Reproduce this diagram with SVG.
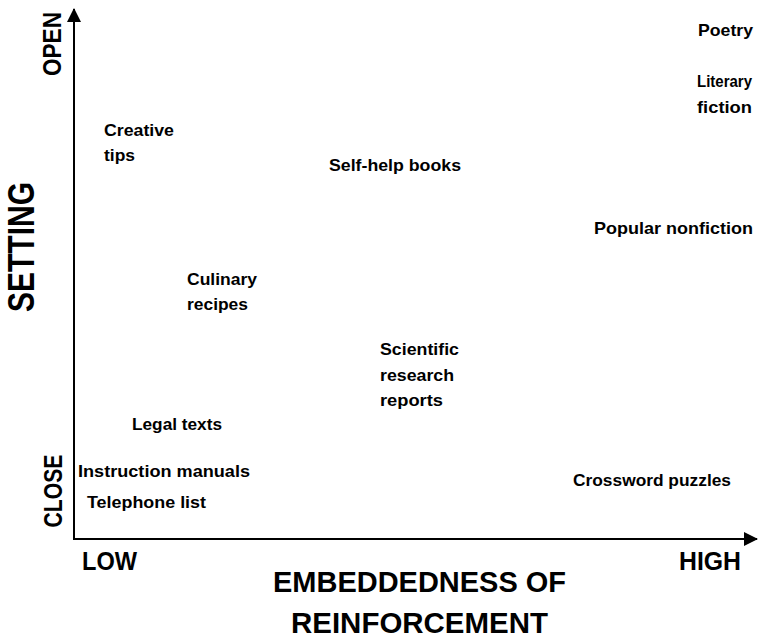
<svg xmlns="http://www.w3.org/2000/svg" width="766" height="638" viewBox="0 0 766 638">
<defs>
<style>
.t{font-family:"Liberation Sans",Arial,sans-serif;font-weight:bold;font-size:17px;fill:#000}
.ax{font-family:"Liberation Sans",Arial,sans-serif;font-weight:bold;fill:#000}
.axis{stroke:#000;stroke-width:2;fill:none}
</style>
<marker id="arr" markerWidth="14" markerHeight="14" refX="13" refY="7" orient="auto" markerUnits="userSpaceOnUse">
<polygon points="0,0 14,7 0,14" fill="#000"/>
</marker>
</defs>
<rect width="766" height="638" fill="#fff"/>
<g id="connectors">
<line class="axis" x1="74" y1="540" x2="74" y2="9" marker-end="url(#arr)"/>
<line class="axis" x1="73" y1="539" x2="757" y2="539" marker-end="url(#arr)"/>
</g>
<g id="axis-labels">
<text class="ax" font-size="25" transform="translate(61,44) rotate(-90)" text-anchor="middle" textLength="64" lengthAdjust="spacingAndGlyphs">OPEN</text>
<text class="ax" font-size="25" transform="translate(62,491) rotate(-90)" text-anchor="middle" textLength="73" lengthAdjust="spacingAndGlyphs">CLOSE</text>
<text class="ax" font-size="36" transform="translate(34,247) rotate(-90)" text-anchor="middle" textLength="130" lengthAdjust="spacingAndGlyphs">SETTING</text>
<text class="ax" font-size="25" x="82" y="570" textLength="55" lengthAdjust="spacingAndGlyphs">LOW</text>
<text class="ax" font-size="25" x="679" y="570" textLength="62" lengthAdjust="spacingAndGlyphs">HIGH</text>
<text class="ax" font-size="29" x="273" y="592" textLength="293" lengthAdjust="spacingAndGlyphs">EMBEDDEDNESS OF</text>
<text class="ax" font-size="29" x="291" y="633" textLength="257" lengthAdjust="spacingAndGlyphs">REINFORCEMENT</text>
</g>
<g id="poetry"><text class="t" x="698" y="36" textLength="55" lengthAdjust="spacingAndGlyphs">Poetry</text></g>
<g id="literary-fiction"><text class="t" x="697" y="87" textLength="55" lengthAdjust="spacingAndGlyphs">Literary</text><text class="t" x="697" y="113" textLength="55" lengthAdjust="spacingAndGlyphs">fiction</text></g>
<g id="creative-tips"><text class="t" x="104" y="136" textLength="70" lengthAdjust="spacingAndGlyphs">Creative</text><text class="t" x="104" y="161" textLength="31" lengthAdjust="spacingAndGlyphs">tips</text></g>
<g id="self-help"><text class="t" x="329" y="171" textLength="132" lengthAdjust="spacingAndGlyphs">Self-help books</text></g>
<g id="popular-nonfiction"><text class="t" x="594" y="234" textLength="159" lengthAdjust="spacingAndGlyphs">Popular nonfiction</text></g>
<g id="culinary-recipes"><text class="t" x="187" y="285" textLength="70" lengthAdjust="spacingAndGlyphs">Culinary</text><text class="t" x="187" y="310" textLength="61" lengthAdjust="spacingAndGlyphs">recipes</text></g>
<g id="scientific"><text class="t" x="380" y="355" textLength="79" lengthAdjust="spacingAndGlyphs">Scientific</text><text class="t" x="380" y="381" textLength="74" lengthAdjust="spacingAndGlyphs">research</text><text class="t" x="380" y="406" textLength="63" lengthAdjust="spacingAndGlyphs">reports</text></g>
<g id="legal-texts"><text class="t" x="132" y="430" textLength="90" lengthAdjust="spacingAndGlyphs">Legal texts</text></g>
<g id="instruction-manuals"><text class="t" x="78" y="477" textLength="172" lengthAdjust="spacingAndGlyphs">Instruction manuals</text></g>
<g id="telephone-list"><text class="t" x="87" y="508" textLength="119" lengthAdjust="spacingAndGlyphs">Telephone list</text></g>
<g id="crossword"><text class="t" x="573" y="486" textLength="158" lengthAdjust="spacingAndGlyphs">Crossword puzzles</text></g>
</svg>
